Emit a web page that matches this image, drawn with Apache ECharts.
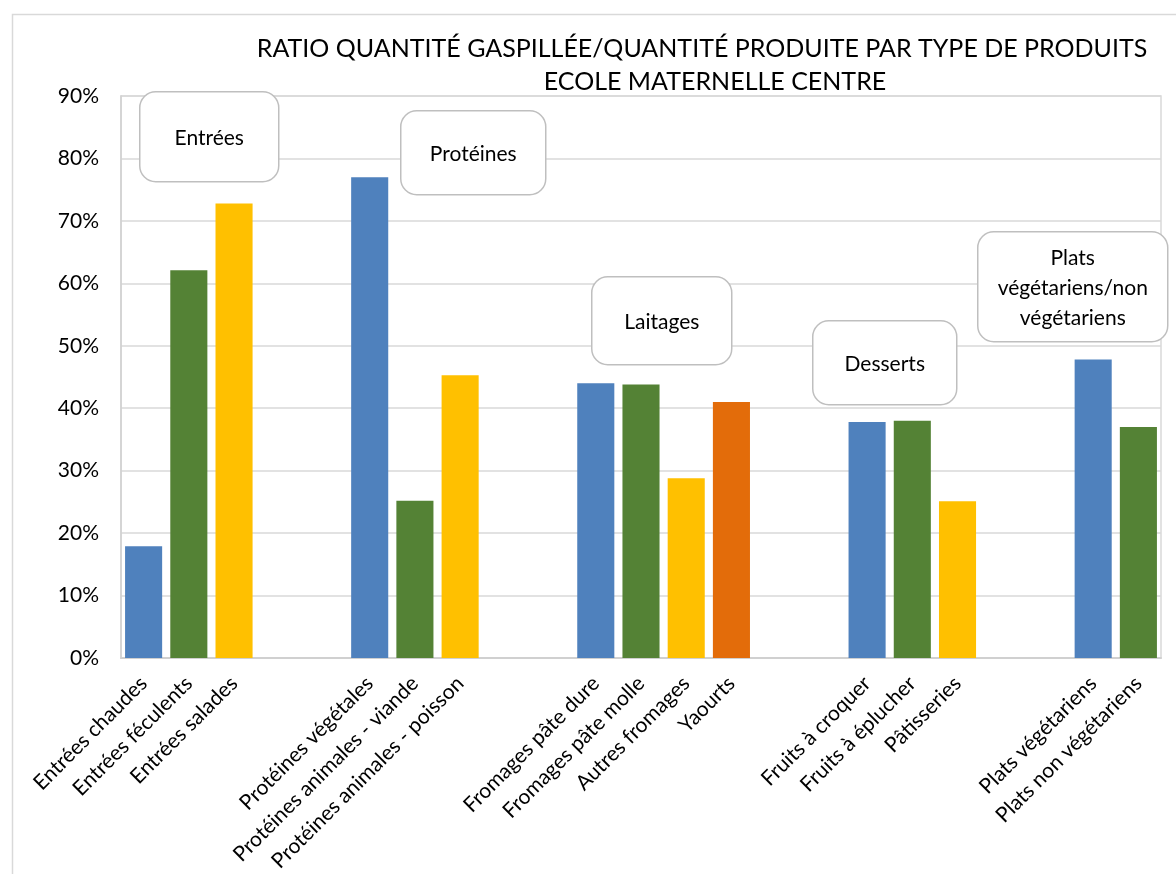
<!DOCTYPE html>
<html>
<head>
<meta charset="utf-8">
<script src="https://cdn.jsdelivr.net/npm/echarts@6/dist/echarts.min.js"></script>
<style>
  html, body { margin: 0; padding: 0; background: #fff; }
  #chart { width: 1176px; height: 874px; }
</style>
</head>
<body>
<div id="chart"></div>
<script>
// Product types; empty strings separate the product families on the axis.
const categories = [
  'Entrées chaudes', 'Entrées féculents', 'Entrées salades', '', '',
  'Protéines végétales', 'Protéines animales - viande', 'Protéines animales - poisson', '', '',
  'Fromages pâte dure', 'Fromages pâte molle', 'Autres fromages', 'Yaourts', '', '',
  'Fruits à croquer', 'Fruits à éplucher', 'Pâtisseries', '', '',
  'Plats végétariens', 'Plats non végétariens'
];

// Wasted / produced ratio (%) for each product type; null for the separators.
const ratios = [
  17.9, 62.1, 72.8, null, null,
  77.0, 25.2, 45.3, null, null,
  44.0, 43.8, 28.8, 41.0, null, null,
  37.8, 38.0, 25.1, null, null,
  47.8, 37.0
];

const yTicks = [0, 10, 20, 30, 40, 50, 60, 70, 80, 90];

const titleLines = [
  'RATIO QUANTITÉ GASPILLÉE/QUANTITÉ PRODUITE PAR TYPE DE PRODUITS',
  'ECOLE MATERNELLE CENTRE'
];

const familyNames = ['Entrées', 'Protéines', 'Laitages', 'Desserts', 'Plats\nvégétariens/non\nvégétariens'];

// Colour of a bar depends on its rank inside its family.
const rankColors = ['#4F81BD', '#548235', '#FFC000', '#E36C0A'];

const FONT = 'Lato, "Open Sans", sans-serif';

const barData = [];
let rank = 0;
ratios.forEach((v) => {
  if (v === null) { rank = 0; barData.push('-'); return; }
  barData.push({ value: v, itemStyle: { color: rankColors[rank % rankColors.length] } });
  rank++;
});

// Callout boxes naming each family.
const boxes = [
  { x: 139, y: 91, w: 139, h: 90 },
  { x: 400, y: 110, w: 145, h: 84 },
  { x: 591, y: 276, w: 140, h: 88 },
  { x: 812, y: 320, w: 144, h: 84 },
  { x: 977, y: 231, w: 190, h: 110 }
];

const graphics = [
  // outer chart frame (left and top edges visible)
  { type: 'rect', left: 10, top: 12, shape: { width: 1200, height: 900 },
    style: { fill: 'none', stroke: '#D9D9D9', lineWidth: 1.5 }, z: 0, silent: true }
];
boxes.forEach((b, i) => {
  graphics.push({
    type: 'group', left: b.x, top: b.y, z: 100,
    children: [
      { type: 'rect', z: 100, shape: { x: 0, y: 0, width: b.w, height: b.h, r: 16 },
        style: { fill: '#fff', stroke: '#BFBFBF', lineWidth: 1.5 } },
      { type: 'text', z: 101, x: b.w / 2, y: b.h / 2 + 1,
        style: { text: familyNames[i], font: '21px ' + FONT, fill: '#000',
                 align: 'center', verticalAlign: 'middle', lineHeight: 30 } }
    ]
  });
});

const chart = echarts.init(document.getElementById('chart'));
chart.setOption({
  animation: false,
  backgroundColor: '#fff',
  title: [
    { text: titleLines[0], left: 697, top: 31, textAlign: 'center',
      textStyle: { fontFamily: FONT, fontSize: 25, fontWeight: 'normal', color: '#000' } },
    { text: titleLines[1], left: 710, top: 64, textAlign: 'center',
      textStyle: { fontFamily: FONT, fontSize: 25, fontWeight: 'normal', color: '#000' } }
  ],
  grid: {
    left: 121, right: 15, top: 96, bottom: 216,
    show: true, borderColor: '#D9D9D9', borderWidth: 1.5,
    containLabel: false, outerBoundsMode: 'none'
  },
  xAxis: {
    type: 'category',
    data: categories,
    axisTick: { show: false },
    axisLine: { lineStyle: { color: '#D0D0D0', width: 2 } },
    axisLabel: {
      interval: 0, rotate: 45, margin: 22,
      fontFamily: FONT, fontSize: 21, color: '#000'
    }
  },
  yAxis: {
    type: 'value',
    min: 0, max: 90, interval: 10,
    axisLine: { show: true, lineStyle: { color: '#D0D0D0', width: 1.5 } },
    axisTick: { show: false },
    splitLine: { lineStyle: { color: '#D9D9D9', width: 1.5 } },
    axisLabel: {
      margin: 22, fontFamily: FONT, fontSize: 21, color: '#000',
      padding: [7, 0, 0, 0],
      formatter: v => (yTicks.includes(v) ? v + '%' : '')
    }
  },
  series: [{
    type: 'bar',
    data: barData,
    barWidth: '82%'
  }],
  graphic: graphics
});
</script>
</body>
</html>
